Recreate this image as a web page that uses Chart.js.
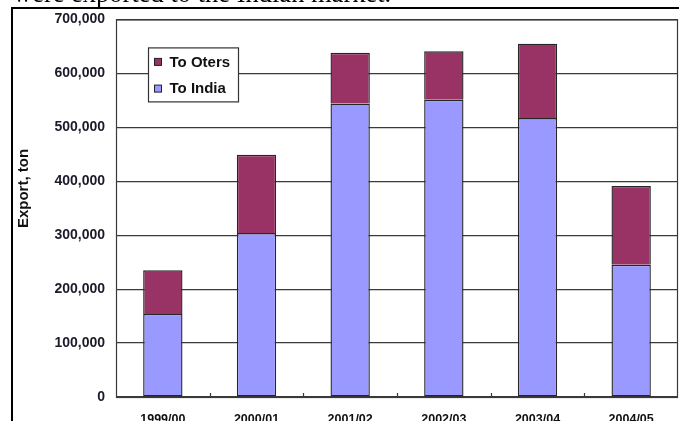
<!DOCTYPE html>
<html>
<head>
<meta charset="utf-8">
<script src="https://cdn.jsdelivr.net/npm/chart.js@4/dist/chart.umd.min.js"></script>
<style>
  html, body { margin: 0; padding: 0; background: #fff; overflow: hidden; }
  #wrap { position: relative; width: 679px; height: 421px; overflow: hidden; background: #fff; }
  #frame { position: absolute; left: 11px; top: 7px; width: 700px; height: 500px;
           border-left: 2px solid #000; border-top: 2px solid #000; }
  #doc { position: absolute; left: 13px; top: -20px; font-family: "Liberation Serif", "Times New Roman", serif;
         font-size: 26.5px; line-height: 26.5px; color: #000; white-space: nowrap; }
  #c { position: absolute; left: 0; top: 0; }
</style>
</head>
<body>
<div id="wrap">
  <div id="frame"></div>
  <canvas id="c" width="679" height="440"></canvas>
  <div id="doc">were exported to the Indian market.</div>
</div>
<script>
// ---- data ----
const categories = ['1999/00', '2000/01', '2001/02', '2002/03', '2003/04', '2004/05'];
const toIndia  = [154000, 304000, 544000, 551000, 517000, 245000];
const toOthers = [ 81000, 145000,  94000,  90000, 138000, 146000];
const seriesNames = ['To India', 'To Oters'];
const yTicks = [0, 100000, 200000, 300000, 400000, 500000, 600000, 700000];
const yTitle = 'Export, ton';

const colIndia = '#9999ff';
const colOthers = '#993366';

const framePlugin = {
  id: 'framePlugin',
  beforeDatasetsDraw(chart) {
    const { ctx, chartArea: a } = chart;
    ctx.save();
    ctx.strokeStyle = '#3a3a3a';
    ctx.lineWidth = 1.2;
    ctx.strokeRect(a.left + 0.5, a.top + 0.5, a.right - a.left - 1, a.bottom - a.top);
    // small category-boundary ticks on the x axis
    const xs = chart.scales.x;
    ctx.beginPath();
    for (let i = 0; i < categories.length - 1; i++) {
      const bx = Math.round((xs.getPixelForTick(i) + xs.getPixelForTick(i + 1)) / 2) + 0.5;
      ctx.moveTo(bx, a.bottom);
      ctx.lineTo(bx, a.bottom - 4);
    }
    ctx.stroke();
    ctx.restore();
  },
  afterDraw(chart) {
    const { ctx, chartArea: a } = chart;
    ctx.save();
    // y axis title
    ctx.translate(23.5, 188.5);
    ctx.rotate(-Math.PI / 2);
    ctx.font = 'bold 15px "Liberation Sans", Arial, sans-serif';
    ctx.fillStyle = '#111';
    ctx.textAlign = 'center';
    ctx.textBaseline = 'middle';
    ctx.fillText(yTitle, 0, 0);
    ctx.restore();

    // legend box
    ctx.save();
    const bx = a.left + 32.5, by = a.top + 28.5, bw = 90, bh = 54;
    ctx.fillStyle = '#fff';
    ctx.fillRect(bx, by, bw, bh);
    ctx.strokeStyle = '#333';
    ctx.lineWidth = 1.2;
    ctx.strokeRect(bx, by, bw, bh);
    const items = chart.data.datasets.slice().reverse();
    ctx.font = 'bold 15px "Liberation Sans", Arial, sans-serif';
    ctx.textBaseline = 'middle';
    ctx.textAlign = 'left';
    items.forEach((ds, i) => {
      const cy = by + 14 + i * 26.7;
      ctx.fillStyle = ds.backgroundColor;
      ctx.fillRect(bx + 6, cy - 3.5, 7, 7);
      ctx.strokeStyle = '#222';
      ctx.lineWidth = 1;
      ctx.strokeRect(bx + 6, cy - 3.5, 7, 7);
      ctx.fillStyle = '#111';
      ctx.fillText(ds.label, bx + 21, cy + 0.5);
    });
    ctx.restore();
  }
};

new Chart(document.getElementById('c'), {
  type: 'bar',
  data: {
    labels: categories,
    datasets: [
      { label: seriesNames[0], data: toIndia, backgroundColor: colIndia, borderColor: '#262626', borderWidth: 1.4, borderSkipped: false },
      { label: seriesNames[1], data: toOthers, backgroundColor: colOthers, borderColor: '#262626', borderWidth: 1.4, borderSkipped: 'bottom' }
    ]
  },
  options: {
    responsive: false,
    animation: false,
    devicePixelRatio: 1,
    layout: { padding: { top: 19, right: 1, left: 0, bottom: 0 } },
    datasets: { bar: { categoryPercentage: 1.0, barPercentage: 0.42 } },
    plugins: { legend: { display: false }, tooltip: { enabled: false } },
    scales: {
      x: {
        stacked: true,
        grid: { display: false, drawTicks: false },
        border: { display: false },
        ticks: { font: { family: '"Liberation Sans", Arial, sans-serif', size: 12.5, weight: 'bold' }, color: '#111', padding: 15, maxRotation: 0 },
        afterFit(s) { s.height = 43; }
      },
      y: {
        stacked: true,
        min: 0, max: 700000,
        afterBuildTicks(s) { s.ticks = yTicks.map(v => ({ value: v })); },
        grid: { color: '#3a3a3a', lineWidth: 1.2, drawTicks: false },
        border: { display: false },
        ticks: {
          font: { family: '"Liberation Sans", Arial, sans-serif', size: 14, weight: 'bold' },
          color: '#1a1a2a', padding: 11,
          callback: v => v.toLocaleString('en-US')
        },
        afterFit(s) { s.width = 116; }
      }
    }
  },
  plugins: [framePlugin]
});
</script>
</body>
</html>
